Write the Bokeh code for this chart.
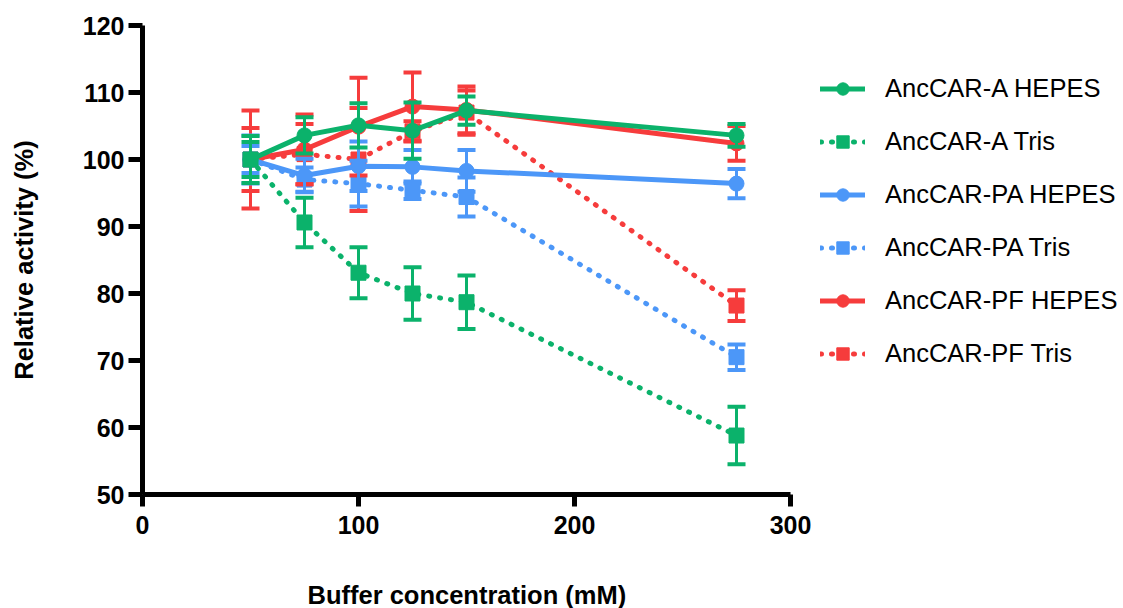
from bokeh.plotting import figure
from bokeh.models import (ColumnDataSource, Whisker, TeeHead, Legend, LegendItem,
                          Range1d, FixedTicker, Title)
from bokeh.embed import file_html
from bokeh.resources import INLINE

conc = [50, 75, 100, 125, 150, 275]

a_hepes = [100.0, 103.6, 105.1, 104.3, 107.3, 103.6]
a_hepes_err = [3.5, 2.7, 3.3, 4.2, 2.1, 1.7]
a_tris = [100.0, 90.6, 83.1, 80.0, 78.7, 58.8]
a_tris_err = [2.6, 3.7, 3.8, 3.9, 4.0, 4.3]

pa_hepes = [100.0, 97.6, 99.0, 98.9, 98.3, 96.4]
pa_hepes_err = [3.6, 2.5, 3.7, 2.5, 3.1, 2.2]
pa_tris = [100.0, 97.0, 96.4, 95.4, 94.4, 70.5]
pa_tris_err = [2.0, 1.8, 3.4, 1.3, 2.9, 1.9]

pf_hepes = [100.0, 101.5, 104.9, 107.9, 107.4, 102.4]
pf_hepes_err = [4.7, 5.2, 7.3, 5.1, 3.5, 2.6]
pf_tris = [100.0, 100.8, 100.0, 104.2, 107.0, 78.2]
pf_tris_err = [7.3, 4.5, 7.7, 1.5, 3.3, 2.3]

x_ticks = [0, 100, 200, 300]
y_ticks = [50, 60, 70, 80, 90, 100, 110, 120]

x_label = "Buffer concentration (mM)"
y_label = "Relative activity (%)"

GREEN = "#0BB26B"
BLUE = "#4C97F8"
RED = "#F63C3C"
FONT = "Liberation Sans"

series = [
    ("AncCAR-A HEPES", a_hepes, a_hepes_err, GREEN, "circle", "solid"),
    ("AncCAR-A Tris", a_tris, a_tris_err, GREEN, "square", "dotted"),
    ("AncCAR-PA HEPES", pa_hepes, pa_hepes_err, BLUE, "circle", "solid"),
    ("AncCAR-PA Tris", pa_tris, pa_tris_err, BLUE, "square", "dotted"),
    ("AncCAR-PF HEPES", pf_hepes, pf_hepes_err, RED, "circle", "solid"),
    ("AncCAR-PF Tris", pf_tris, pf_tris_err, RED, "square", "dotted"),
]

W, H = 1120, 608
LEFT, TOP, BOTTOM_Y = 142, 25, 494
PX_PER_UNIT = (790 - 142) / 300.0
x_end = (W - LEFT) / PX_PER_UNIT

p = figure(width=W, height=H, output_backend="svg", toolbar_location=None,
           x_range=Range1d(0, x_end), y_range=Range1d(50, 120),
           min_border_left=LEFT, min_border_right=0, min_border_top=TOP,
           min_border_bottom=H - BOTTOM_Y)
p.outline_line_color = None
p.grid.visible = False
p.background_fill_color = "white"
p.border_fill_color = "white"

items = {}
order = [5, 4, 3, 2, 0, 1]
for i in order:
    name, ys, errs, col, marker, style = series[i]
    src = ColumnDataSource(data=dict(
        x=conc, y=ys,
        upper=[v + e for v, e in zip(ys, errs)],
        lower=[v - e for v, e in zip(ys, errs)],
    ))
    if style == "solid":
        ln = p.line("x", "y", source=src, line_color=col, line_width=5, line_cap="round")
    else:
        ln = p.line("x", "y", source=src, line_color=col, line_width=5, line_cap="round",
                    line_dash="1 10")
    wh = Whisker(source=src, base="x", upper="upper", lower="lower",
                 line_color=col, line_width=3, level="glyph",
                 upper_head=TeeHead(size=18, line_color=col, line_width=4),
                 lower_head=TeeHead(size=18, line_color=col, line_width=4))
    p.add_layout(wh)
    sc = p.scatter("x", "y", source=src, marker=marker, size=15,
                   fill_color=col, line_color=col, line_width=1)
    items[i] = LegendItem(label=name, renderers=[ln, sc])

legend = Legend(items=[items[i] for i in range(6)], location=(678, 125),
                orientation="vertical", border_line_color=None, background_fill_alpha=0,
                padding=0, margin=0, spacing=22, glyph_width=45, glyph_height=31,
                label_height=31, label_standoff=20,
                label_text_font=FONT, label_text_font_size="25.5px",
                label_text_color="#000000", label_text_baseline="middle")
p.add_layout(legend)

for ax in (p.xaxis[0], p.yaxis[0]):
    ax.axis_line_width = 5
    ax.axis_line_color = "black"
    ax.major_tick_line_width = 5
    ax.major_tick_line_color = "black"
    ax.major_tick_in = 0
    ax.minor_tick_line_color = None
    ax.major_label_text_font = FONT
    ax.major_label_text_font_style = "bold"
    ax.major_label_text_font_size = "25px"
    ax.major_label_text_color = "black"
    ax.axis_label_text_font = FONT
    ax.axis_label_text_font_style = "bold"
    ax.axis_label_text_font_size = "25.5px"
    ax.axis_label_text_color = "black"

p.xaxis.bounds = (0, 300)
p.xaxis.ticker = FixedTicker(ticks=x_ticks)
p.yaxis.ticker = FixedTicker(ticks=y_ticks)
p.xaxis.major_tick_out = 12
p.yaxis.major_tick_out = 14
p.xaxis.major_label_standoff = 9
p.yaxis.major_label_standoff = 4
p.yaxis.axis_label = y_label
p.yaxis.axis_label_standoff = 42

spacer = Title(text=" ", standoff=39, text_font_size="1px", text_color="white")
p.add_layout(spacer, "below")
xt = Title(text=x_label, align="left", offset=307 - LEFT, standoff=0,
           vertical_align="bottom",
           text_font=FONT, text_font_style="bold", text_font_size="25.5px",
           text_color="black")
p.add_layout(xt, "below")

open("out.html", "w").write(file_html(p, INLINE))
